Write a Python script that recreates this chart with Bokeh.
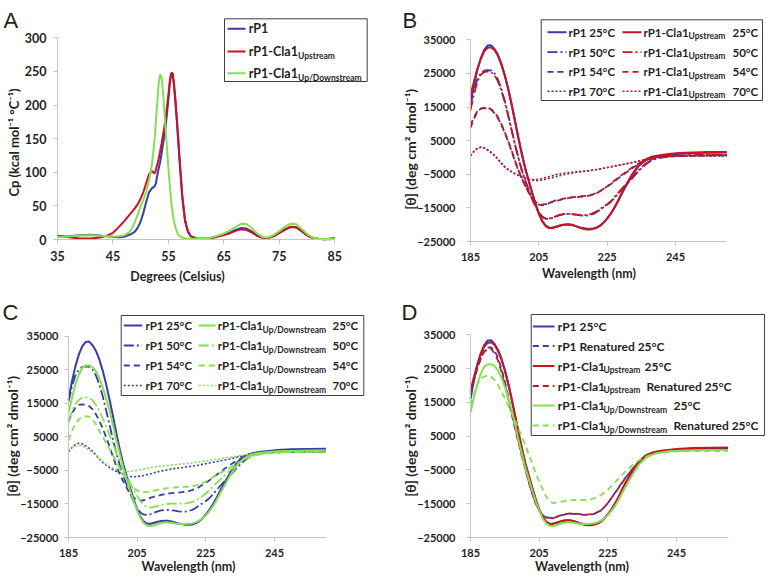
import math
from bokeh.plotting import figure
from bokeh.models import Label, Range1d, FixedTicker
from bokeh.layouts import column, row
from bokeh.embed import file_html
from bokeh.resources import INLINE

# ---------------- Panel A data (DSC) ----------------
temp_c = [35, 37, 39, 41, 43, 44, 45, 46, 47, 48, 48.5, 49, 49.5, 50, 50.5, 51, 51.5, 52, 52.5, 52.75,
          53, 53.25, 53.5, 53.75, 54, 54.25, 54.5, 54.75, 55, 55.25, 55.5, 55.75, 56, 56.25, 56.5, 56.75,
          57, 57.5, 58, 58.5, 59, 60, 61, 62, 63, 64, 65, 66, 67, 68, 69, 70, 71, 72, 73, 74, 75, 76, 77,
          78, 79, 80, 81, 82, 83, 84, 85]
cp_rp1 = [4, 5, 6.5, 7, 5.5, 5, 4, 3.5, 4, 7,
          9, 12, 18, 27, 40, 56, 70, 76, 79, 84,
          96, 106, 115, 127, 140, 154, 169, 188,
          209, 232, 247, 246, 228, 205, 178, 148,
          118, 62, 27, 12, 5,
          1.5, 1, 1.5, 2.5, 5, 7, 10, 14, 17, 16.5,
          12, 6, 2.5, 2, 5, 10, 14.5, 18.5, 18, 12.5,
          6, 2.5, 1, 0.5, 1, 2.5]
cp_up = [5.5, 3.5, 1.5, 1.5, 3.5, 6, 10, 18, 27, 37,
         42, 47, 53, 61, 71, 84, 97, 102, 98, 104,
         112, 120, 131, 142, 154, 166, 181, 198,
         216, 236, 247, 248, 233, 210, 183, 153,
         122, 66, 29, 13, 5,
         1.5, 1, 1.5, 2.5, 4.5, 6.5, 9, 12.5, 15, 14.5,
         10.5, 5.5, 2.5, 2, 5, 10, 15, 19, 18.5, 13,
         6.5, 2.5, 1, 0.5, 0.5, 1]
cp_updown = [3.5, 4.5, 6, 6.5, 5.5, 5, 4.5, 5, 6, 11,
             18, 27, 38, 50, 59, 71, 88, 110, 148, 178,
             205, 233, 246, 242, 222, 193, 164, 135,
             106, 80, 56, 40, 27, 19, 12, 7,
             5, 3, 1.5, 1, 1,
             1, 1, 2, 3.5, 6, 9, 13, 18, 23, 23.5,
             17, 9, 3.5, 3, 7, 12.5, 19, 23.5, 23, 16,
             8, 3, 1, 0.5, 1, 1.5]
a_xticks = [35, 45, 55, 65, 75, 85]
a_yticks = [0, 50, 100, 150, 200, 250, 300]

# ---------------- CD data (panels B, C, D) ----------------
wl_nm = [185, 186, 187, 188, 189, 190, 191, 192, 193, 194,
         195, 196, 197, 198, 199, 200, 201, 202, 203, 204,
         205, 206, 207, 208, 209, 210, 211, 212, 213, 214,
         215, 216, 217, 218, 219, 220, 221, 222, 223, 224,
         225, 226, 227, 228, 229, 230,
         232, 234, 236, 238, 240, 243, 246, 250, 255, 260]
rp1_25 = [16000, 21500, 26000, 29500, 32000, 33300, 33400, 32300, 30600, 28000,
          24600, 20500, 15900, 10900, 5800, 1000, -3300, -6800, -10300, -13700,
          -16600, -18900, -20300, -20900, -20900, -20600, -20300, -20100, -20000, -20000,
          -20200, -20500, -20800, -21000, -21200, -21200, -21100, -20800, -20200, -19300,
          -18100, -16800, -15200, -13400, -11400, -9400,
          -5900, -2800, -900, 0, 400, 800, 1100, 1300, 1400, 1450]
rp1_50 = [15500, 20000, 23300, 25000, 25800, 26000, 25900, 25100, 23300, 20500,
          17000, 12800, 8400, 4000, 0, -3700, -6800, -9500, -12000, -14300,
          -16300, -17600, -18200, -18300, -18000, -17600, -17200, -16900, -16800, -16800,
          -16900, -17000, -17200, -17300, -17300, -17100, -16800, -16200, -15500, -14800,
          -14100, -13300, -12200, -11000, -9800, -8700,
          -6600, -4300, -2300, -800, -200, 300, 500, 600, 650, 700]
rp1_54 = [9500, 12000, 13700, 14500, 14700, 14600, 14200, 13200, 11700, 9800,
          7400, 4800, 2000, -1100, -3900, -6300, -8400, -10300, -12000, -13200,
          -13800, -14000, -13900, -13500, -13100, -12800, -12600, -12300, -12100, -11900,
          -11800, -11700, -11600, -11500, -11400, -11200, -10900, -10500, -10000, -9300,
          -8700, -8000, -7200, -6400, -5600, -4900,
          -3400, -2100, -1100, -400, 0, 300, 400, 500, 550, 600]
rp1_70 = [600, 1800, 2700, 3100, 2900, 2300, 1600, 700, -400, -1600,
          -2700, -3500, -4200, -4800, -5300, -5800, -6200, -6600, -6800, -6900,
          -6800, -6700, -6500, -6200, -6000, -5700, -5400, -5200, -5000, -4800,
          -4600, -4400, -4300, -4200, -4000, -3900, -3700, -3600, -3400, -3200,
          -3000, -2800, -2600, -2400, -2200, -2000,
          -1600, -1100, -700, -300, 100, 300, 500, 500, 550, 550]
up_25 = [18500, 22500, 26300, 29300, 31500, 32600, 32800, 32000, 30300, 27700,
         24500, 20600, 16000, 11000, 6000, 1300, -3100, -6800, -10400, -13800,
         -16700, -19000, -20400, -21000, -21000, -20700, -20300, -20000, -19900, -19900,
         -20100, -20500, -20900, -21200, -21400, -21400, -21200, -20900, -20300, -19400,
         -18200, -16800, -15100, -13200, -11100, -9100,
         -5500, -2600, -700, 200, 600, 1000, 1300, 1500, 1600, 1650]
up_50 = [14000, 18800, 22500, 24600, 25400, 25600, 25400, 24500, 22700, 20000,
         16600, 12500, 8200, 3900, -100, -3800, -7000, -9800, -12300, -14600,
         -16500, -17700, -18200, -18200, -17900, -17500, -17100, -16900, -16800, -16800,
         -16900, -17000, -17100, -17200, -17100, -16900, -16500, -16000, -15300, -14600,
         -13900, -13100, -12000, -10800, -9600, -8500,
         -6300, -4000, -2000, -700, 0, 400, 600, 700, 750, 800]
up_54 = [8800, 11500, 13500, 14500, 14800, 14800, 14400, 13500, 12000, 10000,
         7600, 5000, 2200, -900, -3700, -6200, -8400, -10400, -12000, -13300,
         -14000, -14200, -14000, -13600, -13200, -12900, -12700, -12400, -12200, -12000,
         -11900, -11800, -11700, -11600, -11500, -11300, -11000, -10600, -10000, -9300,
         -8600, -7800, -7000, -6200, -5400, -4700,
         -3200, -1900, -900, -200, 200, 400, 500, 600, 650, 700]
up_70 = [500, 1800, 2600, 3000, 2800, 2200, 1400, 500, -600, -1800,
         -2900, -3700, -4300, -4900, -5400, -5900, -6200, -6500, -6600, -6600,
         -6500, -6300, -6000, -5700, -5400, -5100, -4900, -4700, -4600, -4500,
         -4400, -4300, -4200, -4100, -4000, -3900, -3700, -3600, -3400, -3200,
         -3000, -2800, -2600, -2400, -2200, -2000,
         -1600, -1100, -700, -300, 100, 300, 500, 500, 500, 500]
ud_25 = [12000, 16500, 20500, 23500, 25500, 26300, 26300, 25700, 24500, 22400,
         19600, 16300, 12700, 8300, 3800, -300, -4500, -7800, -11200, -14300,
         -16900, -19300, -20800, -21500, -21600, -21400, -21000, -20700, -20500, -20500,
         -20600, -20800, -20900, -21000, -21000, -20900, -20800, -20500, -20000, -19300,
         -18400, -17200, -15800, -14100, -12200, -10300,
         -6700, -3500, -1500, -400, 100, 500, 700, 800, 900, 900]
ud_50 = [9700, 12500, 14700, 16000, 16700, 16800, 16600, 15900, 14500, 12600,
         10400, 8000, 5500, 2800, 200, -2400, -4600, -6700, -8800, -10800,
         -12600, -14200, -15400, -16000, -16100, -15900, -15600, -15300, -15100, -15000,
         -14900, -14900, -14900, -14900, -14800, -14700, -14400, -14000, -13400, -12700,
         -11900, -11000, -10000, -8900, -7900, -6900,
         -5000, -3200, -1800, -800, -200, 200, 400, 500, 600, 600]
ud_54 = [4000, 6800, 8800, 10200, 11000, 11200, 11000, 10200, 8700, 6700,
         4900, 3100, 1300, -600, -2500, -4400, -6200, -7900, -9400, -10400,
         -11000, -11400, -11500, -11400, -11200, -11000, -10800, -10600, -10400, -10300,
         -10200, -10100, -10000, -9950, -9900, -9800, -9700, -9500, -9200, -8800,
         -8300, -7700, -7100, -6500, -5900, -5300,
         -4200, -3000, -1900, -1000, -400, 100, 300, 450, 550, 600]
ud_70 = [1000, 1800, 2300, 2500, 2300, 1800, 1100, 300, -600, -1500,
         -2400, -3200, -3800, -4300, -4700, -5000, -5200, -5300, -5300, -5200,
         -5000, -4800, -4600, -4400, -4200, -4000, -3900, -3700, -3600, -3500,
         -3400, -3300, -3200, -3100, -3000, -2900, -2800, -2600, -2500, -2300,
         -2200, -2000, -1900, -1700, -1600, -1400,
         -1100, -800, -500, -200, 100, 300, 400, 500, 500, 500]
rp1_ren = [17500, 21500, 25000, 28000, 30300, 31200, 31300, 30300, 28200, 25000,
           21200, 16800, 12200, 7700, 3400, -700, -4700, -8500, -12000, -14900,
           -17000, -18400, -19100, -19300, -19300, -19000, -18600, -18300, -18100, -18000,
           -18000, -18100, -18200, -18300, -18300, -18200, -18000, -17600, -17000, -16000,
           -14800, -13400, -11900, -10400, -8900, -7500,
           -4900, -2600, -900, 0, 400, 700, 900, 1000, 1000, 1000]
up_ren = [18000, 22000, 25300, 28000, 30000, 30800, 30800, 29600, 27400, 24200,
          20300, 16000, 11500, 7100, 3000, -1000, -5000, -8800, -12200, -15000,
          -17100, -18400, -19000, -19200, -19200, -18900, -18500, -18200, -18000, -17900,
          -17900, -18000, -18100, -18200, -18200, -18100, -17900, -17500, -17000, -16000,
          -14800, -13400, -12000, -10500, -9000, -7600,
          -5000, -2700, -1000, 0, 400, 700, 800, 900, 900, 900]
ud_ren = [14000, 17500, 20300, 21900, 22700, 22900, 22600, 21700, 20200, 18200,
          16200, 14000, 11800, 9500, 7200, 4800, 2300, -400, -3200, -6000,
          -8300, -10700, -12800, -14200, -14800, -14700, -14500, -14300, -14100, -14000,
          -13900, -13900, -13900, -13900, -13800, -13700, -13400, -13000, -12400, -11700,
          -10800, -9800, -8800, -7700, -6600, -5600,
          -3700, -2200, -1100, -300, 100, 400, 500, 600, 600, 600]
cd_xticks = [185, 205, 225, 245]
cd_yticks = [-25000, -15000, -5000, 5000, 15000, 25000, 35000]

# ---------------- styles ----------------
BLUE = "#3a3aad"
RED = "#c8141e"
GREEN = "#84e050"
TXT = "#1f1f1f"
AXIS = "#c4c4c4"
STY = {
    "solid": dict(line_dash="solid", line_width=2.0),
    "dashdot": dict(line_dash="10 3 2 3", line_width=1.8),
    "dash": dict(line_dash="6 4", line_width=1.8),
    "dot": dict(line_dash="2 2", line_width=1.6),
}
FONT = "Lato"


class Geo:
    """Maps page pixel positions to data coordinates for one panel (frame = whole figure)."""
    def __init__(self, fig_box, xa, ya):
        self.fig_box = fig_box
        xd0, xp0, xd1, xp1 = xa
        yd0, yp0, yd1, yp1 = ya
        self.xd0, self.xp0, self.kx = xd0, xp0, (xd1 - xd0) / (xp1 - xp0)
        self.yd0, self.yp0, self.ky = yd0, yp0, (yd1 - yd0) / (yp1 - yp0)

    def X(self, px):
        return self.xd0 + (px - self.xp0) * self.kx

    def Y(self, py):
        return self.yd0 + (py - self.yp0) * self.ky


def make_fig(g, xb, yb, xticks, yticks, tick_size, xstand, ystand):
    L, T, W, H = g.fig_box
    p = figure(width=W, height=H, output_backend="svg", toolbar_location=None,
               x_range=Range1d(g.X(L), g.X(L + W)), y_range=Range1d(g.Y(T + H), g.Y(T)),
               min_border_left=0, min_border_right=0, min_border_top=0, min_border_bottom=0)
    p.outline_line_color = None
    p.background_fill_color = "white"
    p.border_fill_color = "white"
    p.xgrid.visible = False
    p.ygrid.visible = False
    p.xaxis.fixed_location = yb[0]
    p.yaxis.fixed_location = xb[0]
    for ax, b, ticks, st in ((p.xaxis[0], xb, xticks, xstand), (p.yaxis[0], yb, yticks, ystand)):
        ax.bounds = b
        ax.ticker = FixedTicker(ticks=ticks)
        ax.axis_line_color = AXIS
        ax.axis_line_width = 1
        ax.major_tick_line_color = AXIS
        ax.major_tick_out = 4
        ax.major_tick_in = 0
        ax.minor_tick_line_color = None
        ax.major_label_text_font = FONT
        ax.major_label_text_font_style = "bold"
        ax.major_label_text_font_size = tick_size
        ax.major_label_text_color = TXT
        ax.major_label_standoff = st
    return p


def label(p, g, px, py, text, size, align="left", baseline="middle", angle=0.0,
          font=FONT, style="bold"):
    p.add_layout(Label(x=g.X(px), y=g.Y(py), text=text, text_font=font,
                       text_font_style=style, text_font_size=size, text_align=align,
                       text_baseline=baseline, angle=angle, text_color=TXT))


def box(p, g, l, t, r, b):
    p.quad(left=[g.X(l)], right=[g.X(r)], top=[g.Y(t)], bottom=[g.Y(b)],
           fill_color="white", line_color="#3f3f3f", line_width=1)


def sample(p, g, x0, x1, y, color, style):
    p.line(x=[g.X(x0), g.X(x1)], y=[g.Y(y), g.Y(y)], line_color=color, **STY[style])


def titles(p, g, letter, lx, ly, xt, xpos, xsize, yt, ypos, ysize):
    label(p, g, lx, ly, letter, "22px", baseline="alphabetic", font="Liberation Sans", style="normal")
    label(p, g, xpos[0], xpos[1], xt, xsize, align="center")
    label(p, g, ypos[0], ypos[1], yt, ysize, align="center", angle=math.pi / 2)


YT_CD = "[θ] (deg cm² dmol⁻¹)"
SUB = "8.5px"

# ---------------- Panel A ----------------
gA = Geo((0, 0, 384, 290), (35, 57, 85, 334.3), (0, 239, 300, 37.3))
pA = make_fig(gA, (35, 85), (0, 300), a_xticks, a_yticks, "12.5px", 7, 7)
pA.line(temp_c, cp_rp1, line_color=BLUE, line_width=2)
pA.line(temp_c, cp_up, line_color=RED, line_width=2)
pA.line(temp_c, cp_updown, line_color=GREEN, line_width=2)
box(pA, gA, 224, 18.3, 366.7, 81)
for y, col, main, sub in ((28.3, BLUE, "rP1", None), (51, RED, "rP1-Cla1", "Upstream"),
                          (72.7, GREEN, "rP1-Cla1", "Up/Downstream")):
    sample(pA, gA, 227, 245, y, col, "solid")
    label(pA, gA, 248.3, y, main, "12.5px")
    if sub:
        label(pA, gA, 297.5, y + 4.5, sub, SUB)
titles(pA, gA, "A", 3, 20, "Degrees (Celsius)", (177, 275.7), "12.5px",
       "Cp (kcal mol⁻¹ °C⁻¹)", (13.5, 142), "13px")

# ---------------- Panel B ----------------
gB = Geo((384, 0, 384, 290), (185, 470, 245, 675), (-25000, 241, 35000, 39.3))
pB = make_fig(gB, (185, 260), (-25000, 35000), cd_xticks, cd_yticks, "11px", 7, 11)
for ys, st in ((rp1_25, "solid"), (rp1_50, "dashdot"), (rp1_54, "dash"), (rp1_70, "dot")):
    pB.line(wl_nm, ys, line_color=BLUE, **STY[st])
for ys, st in ((up_25, "solid"), (up_50, "dashdot"), (up_54, "dash"), (up_70, "dot")):
    pB.line(wl_nm, ys, line_color=RED, **STY[st])
box(pB, gB, 540.7, 19.3, 762, 100)
for y, st, t in ((31.7, "solid", "25°C"), (51.7, "dashdot", "50°C"), (71.4, "dash", "54°C"),
                 (90.7, "dot", "70°C")):
    sample(pB, gB, 547, 566, y, BLUE, st)
    label(pB, gB, 568, y, "rP1 " + t, "11.5px")
    sample(pB, gB, 622, 641, y, RED, st)
    label(pB, gB, 643, y, "rP1-Cla1", "11.5px")
    label(pB, gB, 688, y + 4, "Upstream", SUB)
    label(pB, gB, 732, y, t, "11.5px")
titles(pB, gB, "B", 402, 20, "Wavelength (nm)", (588.5, 273), "12.5px", YT_CD, (410, 149), "14px")

# ---------------- Panel C ----------------
gC = Geo((0, 290, 384, 289), (185, 68, 245, 274), (-25000, 537, 35000, 335.7))
pC = make_fig(gC, (185, 260), (-25000, 35000), cd_xticks, cd_yticks, "11px", 7, 6)
for ys, st in ((rp1_25, "solid"), (rp1_50, "dashdot"), (rp1_54, "dash"), (rp1_70, "dot")):
    pC.line(wl_nm, ys, line_color=BLUE, **STY[st])
for ys, st in ((ud_25, "solid"), (ud_50, "dashdot"), (ud_54, "dash"), (ud_70, "dot")):
    pC.line(wl_nm, ys, line_color=GREEN, **STY[st])
box(pC, gC, 120.7, 315, 363.3, 395)
for y, st, t in ((325, "solid", "25°C"), (345, "dashdot", "50°C"), (365, "dash", "54°C"),
                 (385, "dot", "70°C")):
    sample(pC, gC, 123.3, 141.7, y, BLUE, st)
    label(pC, gC, 145, y, "rP1 " + t, "11.5px")
    sample(pC, gC, 198.3, 215, y, GREEN, st)
    label(pC, gC, 217.3, y, "rP1-Cla1", "11.5px")
    label(pC, gC, 262, y + 4, "Up/Downstream", SUB)
    label(pC, gC, 332, y, t, "11.5px")
titles(pC, gC, "C", 2, 312, "Wavelength (nm)", (188, 566), "12.5px", YT_CD, (11.5, 436), "14px")

# ---------------- Panel D ----------------
gD = Geo((384, 290, 384, 289), (185, 470, 245, 676), (-25000, 537, 35000, 334.3))
pD = make_fig(gD, (185, 260), (-25000, 35000), cd_xticks, cd_yticks, "11px", 7, 11)
d_series = ((rp1_25, BLUE, "solid"), (rp1_ren, BLUE, "dash"), (up_25, RED, "solid"),
            (up_ren, RED, "dash"), (ud_25, GREEN, "solid"), (ud_ren, GREEN, "dash"))
for ys, col, st in d_series:
    pD.line(wl_nm, ys, line_color=col, **STY[st])
box(pD, gD, 530.7, 314, 764, 435)
d_legend = (
    (326, BLUE, "solid", "rP1 25°C", None, None, None),
    (345.5, BLUE, "dash", "rP1 Renatured 25°C", None, None, None),
    (365.5, RED, "solid", "rP1-Cla1", "Upstream", "25°C", 644),
    (385.5, RED, "dash", "rP1-Cla1", "Upstream", "Renatured 25°C", 646),
    (405, GREEN, "solid", "rP1-Cla1", "Up/Downstream", "25°C", 673),
    (425, GREEN, "dash", "rP1-Cla1", "Up/Downstream", "Renatured 25°C", 673),
)
for y, col, st, main, sub, suf, sx in d_legend:
    sample(pD, gD, 532.3, 554, y, col, st)
    label(pD, gD, 557.3, y, main, "12px")
    if sub:
        label(pD, gD, 603, y + 4, sub, SUB)
        label(pD, gD, sx, y, suf, "12px")
titles(pD, gD, "D", 401, 312, "Wavelength (nm)", (581.5, 566), "12.5px", YT_CD, (410, 436), "14px")

layout = column(row(pA, pB), row(pC, pD))
open("out.html", "w").write(file_html(layout, INLINE))
